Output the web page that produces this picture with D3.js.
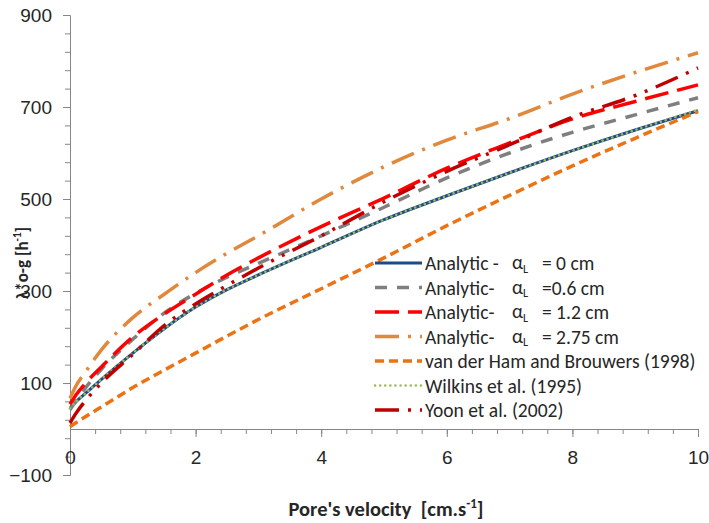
<!DOCTYPE html>
<html>
<head>
<meta charset="utf-8">
<script src="https://cdn.jsdelivr.net/npm/d3@7"></script>
<style>
  body { margin: 0; background: #fff; }
  svg { font-family: Carlito, Lato, "Open Sans", sans-serif; }
  text { white-space: pre; }
</style>
</head>
<body>
<svg id="chart" width="709" height="523"></svg>
<script>
// pore velocity [cm/s]
const velocity = [0, 0.1, 0.25, 0.5, 1, 1.5, 2, 2.5, 3, 4, 5, 6, 7, 8, 9, 10];

// lambda*o-g [1/h]
const analytic0   = [45, 60, 78, 108, 165, 218, 265, 303, 335, 395, 455, 507, 557, 605, 650, 692];
const analytic06  = [42, 62, 90, 130, 195, 252, 295, 330, 360, 420, 482, 546, 600, 645, 683, 720];
const analytic12  = [54, 75, 100, 135, 200, 250, 293, 335, 372, 440, 502, 567, 622, 674, 712, 748];
const analytic275 = [67, 95, 125, 172, 242, 293, 340, 382, 420, 500, 570, 628, 675, 728, 775, 818];
const vanDerHam   = [5, 14, 27, 48, 90, 128, 165, 202, 238, 305, 372, 442, 508, 572, 632, 690];
const wilkins     = [45, 60, 78, 108, 165, 218, 265, 303, 335, 395, 455, 507, 557, 605, 650, 694];
const yoon        = [13, 35, 62, 100, 162, 225, 272, 312, 350, 420, 494, 560, 618, 678, 725, 785];

const seriesNames = [
  "Analytic -", "Analytic-", "Analytic-", "Analytic-",
  "van der Ham and Brouwers (1998)", "Wilkins et al. (1995)", "Yoon et al. (2002)"
];
const alphaLabels = ["= 0 cm", "=0.6 cm", "= 1.2 cm", "= 2.75 cm", null, null, null];

const xTicks = [0, 2, 4, 6, 8, 10];
const yTicks = [-100, 100, 300, 500, 700, 900];

const svg = d3.select("#chart");

const x = d3.scaleLinear().domain([0, 10]).range([70, 698]);
const y = d3.scaleLinear().domain([-100, 900]).range([475, 15]);

const axisColor = "#868686";
const textColor = "#262626";

// y axis (minor ticks every 40)
svg.append("g")
  .attr("transform", `translate(${x(0)},0)`)
  .call(d3.axisLeft(y).tickValues(d3.range(-100, 901, 40)).tickSize(5).tickFormat(""))
  .call(g => g.select(".domain").remove())
  .selectAll("line").attr("stroke", axisColor);
svg.append("g")
  .attr("transform", `translate(${x(0)},0)`)
  .call(d3.axisLeft(y).tickValues(yTicks).tickSize(7).tickPadding(11))
  .call(g => g.select(".domain").attr("stroke", axisColor))
  .call(g => g.selectAll("line").attr("stroke", axisColor))
  .call(g => g.selectAll("text").attr("font-size", 19).attr("fill", textColor).attr("font-family", null));

// x axis at y = 0, labels sit down near the bottom
svg.append("g")
  .attr("transform", `translate(0,${y(0)})`)
  .call(d3.axisBottom(x).tickValues(d3.range(0, 10.01, 0.4)).tickSize(5).tickFormat(""))
  .call(g => g.select(".domain").remove())
  .selectAll("line").attr("stroke", axisColor);
svg.append("g")
  .attr("transform", `translate(0,${y(0)})`)
  .call(d3.axisBottom(x).tickValues(xTicks).tickSize(8).tickPadding(0).tickSizeOuter(0))
  .call(g => g.select(".domain").attr("stroke", axisColor))
  .call(g => g.selectAll("line").attr("stroke", axisColor))
  .call(g => g.selectAll("text").attr("font-size", 19).attr("fill", textColor)
    .attr("font-family", null).attr("dy", 0).attr("y", 35));

const styles = [
  { color: "#1F4A8A", width: 3,   dash: null,                   cap: "butt" },
  { color: "#7F7F7F", width: 3.5, dash: "12,10",                cap: "butt" },
  { color: "#FF0000", width: 3.5, dash: "24,9",                 cap: "butt" },
  { color: "#E0893D", width: 3.5, dash: "24,9,3,9",             cap: "butt" },
  { color: "#EC7314", width: 3.5, dash: "9,5",                  cap: "butt" },
  { color: "#9BBB59", width: 2.5, dash: "0.1,5",                cap: "round" },
  { color: "#C00000", width: 3.5, dash: "24,9,3,9,3,9",         cap: "butt" }
];
const allSeries = [analytic0, analytic06, analytic12, analytic275, vanDerHam, wilkins, yoon];

const line = d3.line()
  .x((d, i) => x(velocity[i]))
  .y(d => y(d))
  .curve(d3.curveMonotoneX);

allSeries.forEach((vals, k) => {
  const s = styles[k];
  svg.append("path")
    .datum(vals)
    .attr("d", line)
    .attr("fill", "none")
    .attr("stroke", s.color)
    .attr("stroke-width", s.width)
    .attr("stroke-dasharray", s.dash)
    .attr("stroke-linecap", s.cap);
});

// legend
const legend = svg.append("g").attr("font-size", 19.5).attr("fill", textColor);
seriesNames.forEach((name, k) => {
  const cy = 263 + k * 24.5;
  const s = styles[k];
  legend.append("line")
    .attr("x1", 375).attr("x2", 422).attr("y1", cy).attr("y2", cy)
    .attr("stroke", s.color).attr("stroke-width", s.width)
    .attr("stroke-dasharray", s.dash).attr("stroke-linecap", s.cap);
  legend.append("text").attr("x", 425).attr("y", cy + 7).text(name);
  if (alphaLabels[k]) {
    const a = legend.append("text").attr("x", 512).attr("y", cy + 6);
    a.append("tspan").text("α");
    a.append("tspan").attr("font-size", 12).attr("dy", 3.5).text("L");
    legend.append("text").attr("x", 542).attr("y", cy + 7).text(alphaLabels[k]);
  }
});

// axis titles
const xt = svg.append("text")
  .attr("x", 386).attr("y", 516)
  .attr("text-anchor", "middle")
  .attr("font-size", 20.5).attr("font-weight", "bold").attr("fill", textColor);
xt.append("tspan").text("Pore's velocity  [cm.s");
xt.append("tspan").attr("font-size", 13).attr("dy", -8).text("-1");
xt.append("tspan").attr("dy", 8).text("]");

const yt = svg.append("text")
  .attr("transform", "translate(28,263) rotate(-90)")
  .attr("text-anchor", "middle")
  .attr("font-size", 17).attr("font-weight", "bold").attr("fill", textColor);
yt.append("tspan").text("λ*o-g [h");
yt.append("tspan").attr("font-size", 11).attr("dy", -7).text("-1");
yt.append("tspan").attr("dy", 7).text("]");
</script>
</body>
</html>
